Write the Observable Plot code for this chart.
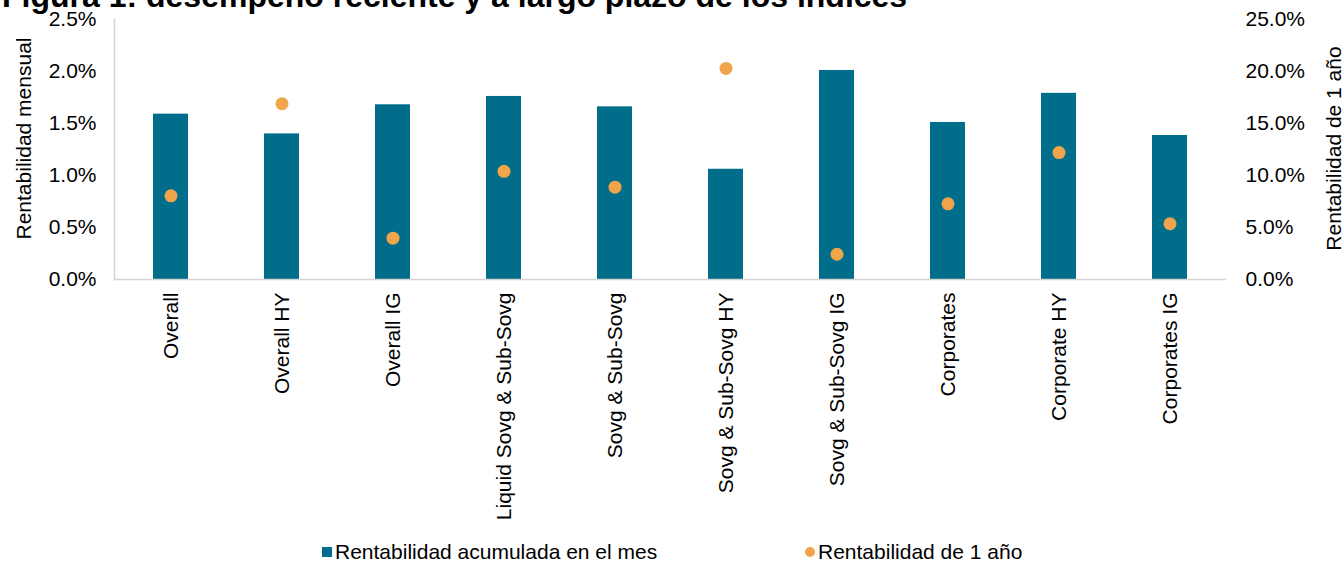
<!DOCTYPE html>
<html>
<head>
<meta charset="utf-8">
<script src="https://cdn.jsdelivr.net/npm/d3@7"></script>
<script src="https://cdn.jsdelivr.net/npm/@observablehq/plot@0.6"></script>
<style>
  html, body { margin: 0; padding: 0; background: #fff; }
  #wrap { position: relative; width: 1344px; height: 563px; overflow: hidden; font-family: "Liberation Sans", Arial, sans-serif; }
  #title { position: absolute; left: 2px; top: -20px; font-size: 32px; line-height: 32px; font-weight: bold; color: #000; white-space: nowrap; }
  #chart { position: absolute; left: 0; top: 0; }
  #legend { position: absolute; top: 540px; left: 0; width: 1344px; height: 23px; font-size: 21px; color: #000; }
  .item { position: absolute; top: 0; display: flex; align-items: center; height: 23px; }
  .sq { width: 10px; height: 10px; background: #006E8A; margin-right: 3px; }
  .dt { width: 10px; height: 10px; border-radius: 50%; background: #F0A54A; margin-right: 3px; }
</style>
</head>
<body>
<div id="wrap">
  <div id="chart"></div>
  <div id="title">Figura 1: desempeño reciente y a largo plazo de los índices</div>
  <div id="legend">
    <div class="item" style="left:322px"><div class="sq"></div><span>Rentabilidad acumulada en el mes</span></div>
    <div class="item" style="left:805px"><div class="dt"></div><span>Rentabilidad de 1 año</span></div>
  </div>
</div>
<script>
// Index names along the x axis
const categories = [
  "Overall", "Overall HY", "Overall IG", "Liquid Sovg & Sub-Sovg", "Sovg & Sub-Sovg",
  "Sovg & Sub-Sovg HY", "Sovg & Sub-Sovg IG", "Corporates", "Corporate HY", "Corporates IG"
];
// Monthly cumulative return, % (left axis)
const monthlyReturn = [1.59, 1.40, 1.68, 1.76, 1.66, 1.06, 2.01, 1.51, 1.79, 1.385];
// One-year return, % (right axis)
const yearReturn = [8.05, 16.9, 3.97, 10.4, 8.88, 20.3, 2.43, 7.28, 12.2, 5.36];
// Axis ticks
const leftTicks = [0, 0.5, 1.0, 1.5, 2.0, 2.5];
const rightTicks = [0, 5, 10, 15, 20, 25];

// The right axis runs 0–25 % against 0–2.5 % on the left
const ratio = 10;

const rows = categories.map((c, i) => ({ name: c, month: monthlyReturn[i], year: yearReturn[i] }));

const font = "Liberation Sans, Arial, sans-serif";
const fs = 21;

const chart = Plot.plot({
  width: 1344,
  height: 535,
  marginLeft: 114,
  marginRight: 118,
  marginTop: 19,
  marginBottom: 256,
  style: { fontFamily: font, fontSize: fs + "px", color: "#000", background: "transparent" },
  x: { domain: categories, paddingInner: 0.685, paddingOuter: 0.3425, label: null },
  y: { domain: [0, 2.5], label: null },
  marks: [
    Plot.barY(rows, { x: "name", y: "month", fill: "#006E8A" }),
    Plot.dot(rows, { x: "name", y: d => d.year / ratio, r: 6.5, fill: "#F0A54A", stroke: "none" }),
    Plot.ruleY([0], { stroke: "#d4d4d4", strokeWidth: 1.5 }),
    Plot.frame({ anchor: "left", stroke: "#d4d4d4", strokeWidth: 1.5 }),
    Plot.axisX({ tickRotate: -90, tickSize: 0, tickPadding: 13, label: null, fontSize: fs }),
    Plot.axisY({ anchor: "left", ticks: leftTicks, tickSize: 0, tickPadding: 18,
      tickFormat: d => d.toFixed(1) + "%", label: null, fontSize: fs }),
    Plot.axisY({ anchor: "right", ticks: rightTicks.map(t => t / ratio), tickSize: 0, tickPadding: 19,
      tickFormat: d => (d * ratio).toFixed(1) + "%", label: null, fontSize: fs, textAnchor: "start" }),
    Plot.text(["Rentabilidad mensual"], { frameAnchor: "left", textAnchor: "middle", rotate: -90, dx: -90, dy: -11, fontSize: fs, fill: "#000" }),
    Plot.text(["Rentabilidad de 1 año"], { frameAnchor: "right", textAnchor: "middle", rotate: -90, dx: 108, dy: -1, fontSize: fs, fill: "#000" })
  ]
});
document.getElementById("chart").appendChild(chart);
</script>
</body>
</html>
